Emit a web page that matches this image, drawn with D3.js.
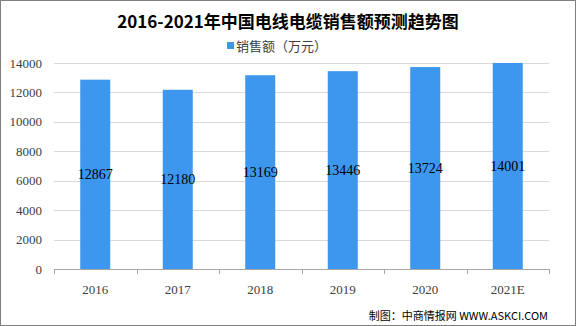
<!DOCTYPE html>
<html>
<meta charset="utf-8">
<title>电线电缆销售额</title>
<style>
    body { margin: 0; background: #fff; }
    svg text { font-family: "Liberation Serif", "DejaVu Serif", serif; }
    .cjk { font-family: "Noto Sans CJK SC", sans-serif; }
</style>
<script src="https://cdn.jsdelivr.net/npm/d3@7/dist/d3.min.js"></script>
<body>
<script>
    // data
    const years = ["2016", "2017", "2018", "2019", "2020", "2021E"]
    const sales = [12867, 12180, 13169, 13446, 13724, 14001]
    const yTicks = [0, 2000, 4000, 6000, 8000, 10000, 12000, 14000]

    const W = 576, H = 326
    const plotL = 54, plotR = 549, plotT = 63, plotB = 269

    const svg = d3.select("body").append("svg")
        .attr("width", W).attr("height", H)

    // outer frame
    svg.append("rect")
        .attr("x", 0.5).attr("y", 0.5)
        .attr("width", W - 1).attr("height", H - 1)
        .attr("fill", "#fff").attr("stroke", "#7f7f7f")

    const x = d3.scaleBand().domain(years).range([plotL, plotR])
    const y = d3.scaleLinear().domain([0, 14000]).range([plotB, plotT])

    // gridlines
    svg.append("g")
        .selectAll("line")
        .data(yTicks.slice(1))
        .join("line")
        .attr("x1", plotL).attr("x2", plotR)
        .attr("y1", d => Math.round(y(d)) + 0.5)
        .attr("y2", d => Math.round(y(d)) + 0.5)
        .attr("stroke", "#d9d9d9")

    // y labels
    svg.append("g")
        .selectAll("text")
        .data(yTicks)
        .join("text")
        .attr("x", 42).attr("y", d => y(d))
        .attr("dy", "0.35em")
        .attr("text-anchor", "end")
        .attr("font-size", 13)
        .attr("fill", "#404040")
        .text(d => d)

    // bars
    const bw = 30
    svg.append("g")
        .selectAll("rect")
        .data(sales)
        .join("rect")
        .attr("x", (d, i) => x(years[i]) + x.bandwidth() / 2 - bw / 2)
        .attr("y", d => y(d))
        .attr("width", bw)
        .attr("height", d => plotB - y(d))
        .attr("fill", "#3d97ef")

    // bottom axis
    const xa = svg.append("g")
    xa.append("line")
        .attr("x1", plotL).attr("x2", plotR)
        .attr("y1", plotB + 0.5).attr("y2", plotB + 0.5)
        .attr("stroke", "#a6a6a6")
    xa.selectAll(".tk")
        .data(d3.range(years.length + 1))
        .join("line")
        .attr("class", "tk")
        .attr("x1", i => Math.round(plotL + i * x.step()) + 0.5)
        .attr("x2", i => Math.round(plotL + i * x.step()) + 0.5)
        .attr("y1", plotB).attr("y2", plotB + 5)
        .attr("stroke", "#a6a6a6")
    xa.selectAll("text")
        .data(years)
        .join("text")
        .attr("x", d => x(d) + x.bandwidth() / 2)
        .attr("y", plotB + 20)
        .attr("dy", "0.35em")
        .attr("text-anchor", "middle")
        .attr("font-size", 13)
        .attr("fill", "#404040")
        .text(d => d)

    // value labels at mid-height of bars
    svg.append("g")
        .selectAll("text")
        .data(sales)
        .join("text")
        .attr("x", (d, i) => x(years[i]) + x.bandwidth() / 2)
        .attr("y", d => y(d / 2))
        .attr("dy", "0.35em")
        .attr("text-anchor", "middle")
        .attr("font-size", 14)
        .attr("fill", "#000")
        .text(d => d)

    // title
    svg.append("text")
        .attr("class", "cjk")
        .attr("x", W / 2).attr("y", 22)
        .attr("dy", "0.35em")
        .attr("text-anchor", "middle")
        .attr("font-size", 17)
        .attr("font-weight", "bold")
        .attr("fill", "#000")
        .text("2016-2021年中国电线电缆销售额预测趋势图")

    // legend
    svg.append("rect")
        .attr("x", 227).attr("y", 42)
        .attr("width", 7).attr("height", 7)
        .attr("fill", "#3d97ef")
    svg.append("text")
        .attr("class", "cjk")
        .attr("x", 236).attr("y", 46)
        .attr("dy", "0.35em")
        .attr("font-size", 13)
        .attr("fill", "#404040")
        .text("销售额（万元）")

    // source
    svg.append("text")
        .attr("class", "cjk")
        .attr("x", 548).attr("y", 316)
        .attr("dy", "0.35em")
        .attr("text-anchor", "end")
        .attr("font-size", 11)
        .attr("fill", "#000")
        .text("制图：中商情报网 WWW.ASKCI.COM")
</script>
</body>
</html>
